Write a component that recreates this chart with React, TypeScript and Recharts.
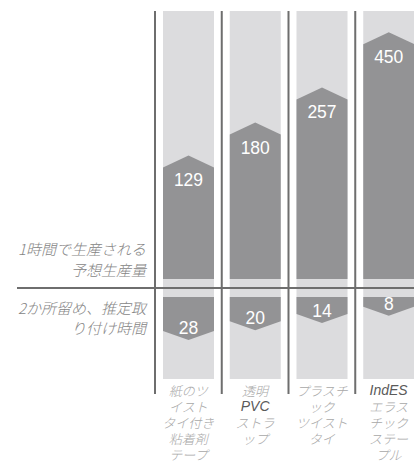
import React from 'react';
import { BarChart, Bar, XAxis, YAxis } from 'recharts';

const categoryLines = [
  ['紙のツ', 'イスト', 'タイ付き', '粘着剤', 'テープ'],
  ['透明', 'PVC', 'ストラ', 'ップ'],
  ['プラスチ', 'ック', 'ツイスト', 'タイ'],
  ['IndES', 'エラス', 'チック', 'ステー', 'プル'],
];
const categories = categoryLines.map((l) => l.join(''));
const unitsPerHour = [129, 180, 257, 450];
const installSeconds = [28, 20, 14, 8];
const outputLabel = ['1時間で生産される', '予想生産量'];
const installLabel = ['2か所留め、推定取', 'り付け時間'];

const rows = categories.map((name, i) => ({
  name,
  perHour: unitsPerHour[i],
  seconds: installSeconds[i],
}));

const LIGHT = '#dcdcde';
const DARK = '#939395';
const RULE = '#6e6e6e';
const GAP = 8;
const JP = '"Noto Sans CJK JP", "Noto Sans", sans-serif';
const NUM = '"Liberation Sans", Arial, sans-serif';

const UpperColumn = (props: any) => {
  const { x, y, width, height } = props;
  return (
    <g>
      <rect x={x} y={y} width={width} height={height} fill={LIGHT} />
      <rect x={x - GAP - 1} y={y} width={2} height={height} fill={RULE} />
    </g>
  );
};

const LowerColumn = (props: any) => {
  const { x, y, width, height } = props;
  return (
    <g>
      <rect x={x} y={y} width={width} height={height} fill={LIGHT} />
      <rect x={x - GAP - 1} y={y} width={2} height={height + 15} fill={RULE} />
    </g>
  );
};

const UpArrow = (props: any) => {
  const { x, y, width, height, payload } = props;
  const bottom = y + height - 9;
  const d = `M${x},${bottom} L${x},${y} L${x + width / 2},${y - 12} L${x + width},${y} L${x + width},${bottom} Z`;
  return (
    <g>
      <path d={d} fill={DARK} />
      <text x={x + width / 2} y={y + 13} fill="#fff" fontSize={17.5} fontFamily={NUM}
        textAnchor="middle" dominantBaseline="central">{payload.perHour}</text>
    </g>
  );
};

const DownArrow = (props: any) => {
  const { x, y, width, height, payload } = props;
  const top = Math.min(y, y + height) + 9;
  const shoulder = top + Math.abs(height);
  const d = `M${x},${top} L${x + width},${top} L${x + width},${shoulder} L${x + width / 2},${shoulder + 9} L${x},${shoulder} Z`;
  return (
    <g>
      <path d={d} fill={DARK} />
      <text x={x + width / 2} y={shoulder - 3} fill="#fff" fontSize={17.5} fontFamily={NUM}
        textAnchor="middle" dominantBaseline="central">{payload.seconds}</text>
    </g>
  );
};

const CategoryTick = (props: any) => {
  const { x, y, index } = props;
  const lines = categoryLines[index] || [];
  return (
    <g>
      {lines.map((l, i) => {
        const latin = /^[A-Za-z]+$/.test(l);
        return (
          <text key={i} x={x} y={y + 11 + i * 16} textAnchor="middle" dominantBaseline="central"
            fontSize={latin ? 14 : 13} fontFamily={latin ? NUM : JP} fontStyle="italic"
            fontWeight={300} fill={latin ? '#5a5a5a' : '#a8a8a8'}>{l}</text>
        );
      })}
    </g>
  );
};

const sideText: React.CSSProperties = {
  position: 'absolute',
  right: 414 - 146,
  textAlign: 'right',
  fontFamily: JP,
  fontStyle: 'italic',
  fontWeight: 300,
  fontSize: 15,
  color: '#858585',
  whiteSpace: 'nowrap',
};

export default function App() {
  return (
    <div style={{ position: 'absolute', left: 0, top: 0, width: 414, height: 465, overflow: 'hidden', background: '#fff' }}>
      <div style={{ position: 'absolute', left: 0, top: 0 }}>
        <BarChart width={422} height={288} data={rows} barCategoryGap={GAP}
          margin={{ top: 11, right: 0, bottom: 0, left: 155 }}>
          <XAxis dataKey="name" hide />
          <YAxis hide type="number" scale="log" domain={[38, 630]} allowDataOverflow />
          <Bar dataKey="perHour" background={UpperColumn} shape={UpArrow} isAnimationActive={false} />
        </BarChart>
      </div>
      <div style={{ position: 'absolute', left: 0, top: 288 }}>
        <BarChart width={422} height={177} data={rows} barCategoryGap={GAP}
          margin={{ top: 0, right: 0, bottom: 0, left: 155 }}>
          <XAxis dataKey="name" height={86} axisLine={false} tickLine={false} tickSize={0}
            tickMargin={0} interval={0} tick={<CategoryTick />} />
          <YAxis hide type="number" reversed domain={[0, 75]} allowDataOverflow />
          <Bar dataKey="seconds" background={LowerColumn} shape={DownArrow} isAnimationActive={false} />
        </BarChart>
      </div>
      <div style={{ position: 'absolute', left: 17, top: 287, width: 397, height: 2, background: RULE }} />
      <div style={{ ...sideText, top: 238, lineHeight: '21px' }}>
        {outputLabel.map((l) => <div key={l}>{l}</div>)}
      </div>
      <div style={{ ...sideText, top: 298, lineHeight: '20px' }}>
        {installLabel.map((l) => <div key={l}>{l}</div>)}
      </div>
    </div>
  );
}
